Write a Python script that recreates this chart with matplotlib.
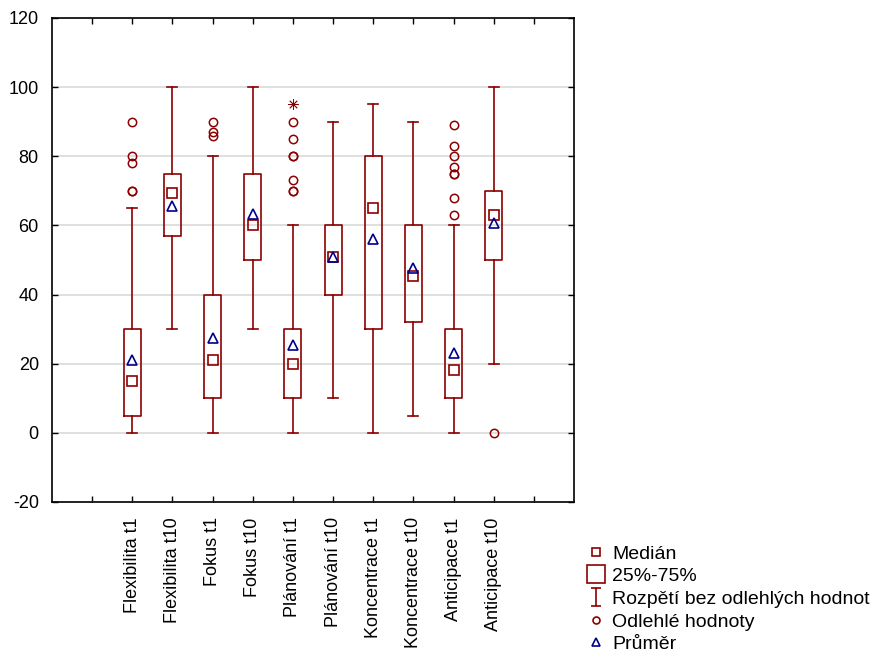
import matplotlib
matplotlib.use("Agg")
import matplotlib.pyplot as plt
from matplotlib.lines import Line2D
from matplotlib.path import Path

plt.rcParams['font.family'] = ['Liberation Sans', 'DejaVu Sans']
plt.rcParams['axes.unicode_minus'] = False

categories = ["Flexibilita t1", "Flexibilita t10", "Fokus t1", "Fokus t10",
              "Plánování t1", "Plánování t10", "Koncentrace t1", "Koncentrace t10",
              "Anticipace t1", "Anticipace t10"]
medians = [15, 69.5, 21, 60, 20, 51, 65, 45.5, 18.3, 63]
means = [21, 65.7, 27.4, 63.4, 25.4, 51, 56.2, 47.8, 23, 60.8]
q1 = [5, 57, 10, 50, 10, 40, 30, 32, 10, 50]
q3 = [30, 75, 40, 75, 30, 60, 80, 60, 30, 70]
whisker_low = [0, 30, 0, 30, 0, 10, 0, 5, 0, 20]
whisker_high = [65, 100, 80, 100, 60, 90, 95, 90, 60, 100]
outliers = [
    [90, 80, 78, 70, 70],
    [],
    [90, 87, 86],
    [],
    [90, 85, 80, 80, 73, 70, 70],
    [],
    [],
    [],
    [89, 83, 80, 77, 75, 75, 68, 63],
    [0],
]
extremes = [[], [], [], [], [95], [], [], [], [], []]

legend_labels = ["Medián", "25%-75%", "Rozpětí bez odlehlých hodnot",
                 "Odlehlé hodnoty", "Průměr"]

RED = '#8B0000'
BLUE = '#00008B'

fig = plt.figure(figsize=(8.72, 6.55), dpi=100)
ax = fig.add_axes([52/872, 1-502/655, (574-52)/872, (502-18)/655])

positions = list(range(1, len(categories)+1))
stats = []
for i in range(len(categories)):
    stats.append(dict(med=medians[i], q1=q1[i], q3=q3[i], whislo=whisker_low[i],
                      whishi=whisker_high[i], fliers=outliers[i], mean=means[i]))

ax.bxp(stats, positions=positions, widths=0.42, capwidths=0.25,
       showmeans=False, showfliers=True, manage_ticks=False,
       boxprops=dict(color=RED, linewidth=1.2),
       whiskerprops=dict(color=RED, linewidth=1.2),
       capprops=dict(color=RED, linewidth=1.2),
       medianprops=dict(linestyle='none'),
       flierprops=dict(marker='o', markersize=6, markerfacecolor='none',
                       markeredgecolor=RED, markeredgewidth=1.1, linestyle='none'),
       zorder=3)

ax.plot(positions, medians, linestyle='none', marker='s', markersize=7,
        markerfacecolor='none', markeredgecolor=RED, markeredgewidth=1.2, zorder=4)
ax.plot(positions, means, linestyle='none', marker='^', markersize=6.5,
        markerfacecolor='none', markeredgecolor=BLUE, markeredgewidth=1.2, zorder=5)
for p, ex in zip(positions, extremes):
    if ex:
        ax.plot([p]*len(ex), ex, linestyle='none', marker=(8, 2, 0), markersize=7.5,
                markeredgecolor=RED, markeredgewidth=0.6, zorder=4)

ax.set_xlim(-1, 12)
ax.set_ylim(-20, 120)
ax.set_yticks(range(-20, 121, 20))
ax.set_xticks(range(0, 12))
ax.set_xticklabels([""] + categories + [""], rotation=90)
ax.yaxis.grid(True, color='#d9d9d9', linewidth=1.2, zorder=0)
ax.set_axisbelow(True)
ax.tick_params(direction='in', top=True, right=True, length=4, width=1,
               labelsize=13, colors='black')
ax.tick_params(axis='y', pad=9.5)
ax.tick_params(axis='x', pad=11)
for s in ax.spines.values():
    s.set_linewidth(1.2)

ibeam = Path([(-0.5, -1), (0.5, -1), (0, -1), (0, 1), (-0.5, 1), (0.5, 1)],
             [Path.MOVETO, Path.LINETO, Path.MOVETO, Path.LINETO, Path.MOVETO, Path.LINETO])
handles = [
    Line2D([], [], linestyle='none', marker='s', markersize=5.5, markerfacecolor='none',
           markeredgecolor=RED, markeredgewidth=1.2),
    Line2D([], [], linestyle='none', marker='s', markersize=13, markerfacecolor='none',
           markeredgecolor=RED, markeredgewidth=1.2),
    Line2D([], [], linestyle='none', marker=ibeam, markersize=13, markerfacecolor='none',
           markeredgecolor=RED, markeredgewidth=1.2),
    Line2D([], [], linestyle='none', marker='o', markersize=5, markerfacecolor='none',
           markeredgecolor=RED, markeredgewidth=1.2),
    Line2D([], [], linestyle='none', marker='^', markersize=5.5, markerfacecolor='none',
           markeredgecolor=BLUE, markeredgewidth=1.2),
]
fig.legend(handles, legend_labels, loc='upper left',
           bbox_to_anchor=(587/872, 1-545/655), frameon=False, fontsize=14,
           handlelength=0.95, handletextpad=0.35, labelspacing=0.26,
           borderaxespad=0, borderpad=0)

fig.savefig("out.png", dpi=100)
